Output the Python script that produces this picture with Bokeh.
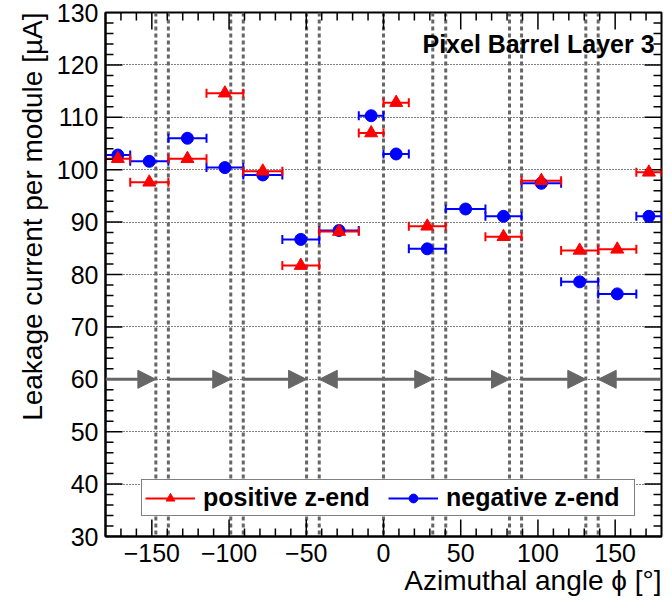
from bokeh.plotting import figure
from bokeh.models import (ColumnDataSource, Whisker, TeeHead, Span, Arrow, NormalHead,
                          Legend, LegendItem, Label, Title,
                          SingleIntervalTicker, Range1d)
from bokeh.embed import file_html
from bokeh.resources import INLINE

# ---------------- data ----------------
bin_lo = [-180, -164, -139.3, -114.6, -90.8, -65.5, -41.6, -16, 0, 16.4, 40.3, 66, 89.4, 115, 139.0, 163.7]
bin_hi = [-164, -139.3, -114.6, -90.8, -65.5, -41.6, -16, 0, 16.4, 40.3, 66, 89.4, 115, 139.0, 163.7, 180]

positive_current = [102.1, 97.6, 102.1, 114.6, 99.7, 81.7, 88.2, 107.0, 112.8, 89.2, None, 87.2, 97.9, 84.6, 84.8, 99.5]
negative_current = [102.8, 101.6, 106.0, 100.4, 99.0, 86.7, 88.4, 110.3, 103.0, 84.9, 92.5, 91.1, 97.4, 78.6, 76.3, 91.1]

boundary_phi = [-147.4, -139.3, -98.9, -90.8, -49.8, -41.6, 0, 31.9, 40.3, 81.6, 89.4, 131.0, 139.0]

arrow_level = 60
arrow_from = [-180, -139.3, -90.8, 40.3, 89.4, 180]
arrow_to = [-147.4, -98.9, -49.8, 81.6, 131.0, 139.0]
double_arrow_from = [-41.6]
double_arrow_to = [31.9]

x_min, x_max = -180, 180
y_min, y_max = 30, 130
x_major_ticks = [-150, -100, -50, 0, 50, 100, 150]
x_minor_step = 10
y_major_ticks = [30, 40, 50, 60, 70, 80, 90, 100, 110, 120, 130]
y_minor_step = 2

RED = "#ff0000"
BLUE = "#0000ff"
GREY_DASH = "#666666"
GREY_ARROW = "#666666"
FONT = "Liberation Sans"

W, H = 664, 600
BORDER_L, BORDER_R, BORDER_T, BORDER_B = 105, 3, 12, 64


def series_source(values):
    d = dict(phi=[], lo=[], hi=[], cur=[])
    for lo, hi, v in zip(bin_lo, bin_hi, values):
        if v is None:
            continue
        d["phi"].append((lo + hi) / 2.0)
        d["lo"].append(lo)
        d["hi"].append(hi)
        d["cur"].append(v)
    return ColumnDataSource(d)


src_pos = series_source(positive_current)
src_neg = series_source(negative_current)

# ---------------- figure ----------------
p = figure(width=W, height=H, x_range=Range1d(x_min, x_max), y_range=Range1d(y_min, y_max),
           output_backend="svg", toolbar_location=None,
           min_border_left=BORDER_L, min_border_right=BORDER_R,
           min_border_top=BORDER_T, min_border_bottom=BORDER_B)
p.background_fill_color = "white"
p.border_fill_color = "white"
p.outline_line_color = "black"
p.outline_line_width = 2

for ax, tk in ((p.xaxis[0], SingleIntervalTicker(interval=50, num_minor_ticks=5)),
               (p.yaxis[0], SingleIntervalTicker(interval=10, num_minor_ticks=5))):
    ax.ticker = tk
    ax.axis_line_color = "black"
    ax.axis_line_width = 2
    ax.major_tick_in = 0
    ax.major_tick_out = 0
    ax.minor_tick_in = 0
    ax.minor_tick_out = 0
    ax.major_label_text_font = FONT
    ax.major_label_text_font_size = "25px"
    ax.major_label_text_color = "black"
p.xaxis[0].major_label_standoff = 7
p.yaxis[0].major_label_standoff = 7

p.xgrid.visible = False
p.ygrid.grid_line_color = "black"
p.ygrid.grid_line_width = 1
p.ygrid.grid_line_dash = "1 2"

# tick marks on all four sides, pointing inwards (ROOT style)
px_per_x = (W - BORDER_L - BORDER_R) / (x_max - x_min)
px_per_y = 523.0 / (y_max - y_min)
x_minor_ticks = [v for v in range(x_min + x_minor_step, x_max, x_minor_step) if v not in x_major_ticks]
y_minor_ticks = [v for v in range(y_min, y_max + 1, y_minor_step) if v not in y_major_ticks]
for ticks, length in ((x_major_ticks, 17), (x_minor_ticks, 8)):
    dy = length / px_per_y
    n = len(ticks)
    p.segment(x0=ticks, y0=[y_min] * n, x1=ticks, y1=[y_min + dy] * n,
              line_color="black", line_width=1.5)
    p.segment(x0=ticks, y0=[y_max] * n, x1=ticks, y1=[y_max - dy] * n,
              line_color="black", line_width=1.5)
for ticks, length in ((y_major_ticks, 17), (y_minor_ticks, 8)):
    dx = length / px_per_x
    n = len(ticks)
    p.segment(x0=[x_min] * n, y0=ticks, x1=[x_min + dx] * n, y1=ticks,
              line_color="black", line_width=1.5)
    p.segment(x0=[x_max] * n, y0=ticks, x1=[x_max - dx] * n, y1=ticks,
              line_color="black", line_width=1.5)

# axis titles (right aligned, ROOT style)
p.add_layout(Title(text="Azimuthal angle \u03d5 [\u00b0]", align="right", text_font=FONT,
                   text_font_size="28px", text_font_style="normal", text_color="black",
                   standoff=-4), "below")
p.add_layout(Title(text="Leakage current per module [\u00b5A]", align="right", text_font=FONT,
                   text_font_size="28px", text_font_style="normal", text_color="black",
                   standoff=12), "left")

# dashed boundaries
for v in boundary_phi:
    p.add_layout(Span(location=v, dimension="height", line_color=GREY_DASH, line_width=3,
                      line_dash="4 3", level="underlay"))

# arrows
arrow_src = ColumnDataSource(dict(x0=arrow_from, x1=arrow_to, y=[arrow_level] * len(arrow_from)))
p.add_layout(Arrow(source=arrow_src, x_start="x0", y_start="y", x_end="x1", y_end="y",
                   line_color=GREY_ARROW, line_width=3,
                   end=NormalHead(size=18, fill_color=GREY_ARROW, line_color=GREY_ARROW)))
darrow_src = ColumnDataSource(dict(x0=double_arrow_from, x1=double_arrow_to,
                                   y=[arrow_level] * len(double_arrow_from)))
p.add_layout(Arrow(source=darrow_src, x_start="x0", y_start="y", x_end="x1", y_end="y",
                   line_color=GREY_ARROW, line_width=3,
                   start=NormalHead(size=18, fill_color=GREY_ARROW, line_color=GREY_ARROW),
                   end=NormalHead(size=18, fill_color=GREY_ARROW, line_color=GREY_ARROW)))

# error bars
for src, col in ((src_neg, BLUE), (src_pos, RED)):
    p.add_layout(Whisker(source=src, base="cur", lower="lo", upper="hi", dimension="width",
                         line_color=col, line_width=2,
                         lower_head=TeeHead(size=9, line_color=col, line_width=2),
                         upper_head=TeeHead(size=9, line_color=col, line_width=2)))

neg_r = p.scatter("phi", "cur", source=src_neg, marker="circle", size=12,
                  fill_color=BLUE, line_color=BLUE)
pos_r = p.scatter("phi", "cur", source=src_pos, marker="triangle", size=13,
                  fill_color=RED, line_color=RED)

pos_line = p.line(x=[float("nan")], y=[float("nan")], line_color=RED, line_width=2)
neg_line = p.line(x=[float("nan")], y=[float("nan")], line_color=BLUE, line_width=2)

legend = Legend(items=[LegendItem(label="positive z-end", renderers=[pos_line, pos_r]),
                       LegendItem(label="negative z-end", renderers=[neg_line, neg_r])],
                location=(36, 20), orientation="horizontal",
                label_text_font=FONT, label_text_font_size="25px", label_text_font_style="bold",
                label_text_color="black",
                glyph_width=50, glyph_height=22, label_standoff=8, label_width=185,
                spacing=0, padding=3, margin=0,
                border_line_color="black", border_line_width=1.5,
                background_fill_color="white", background_fill_alpha=1.0)
p.add_layout(legend)

p.add_layout(Label(x=175.5, y=124, text="Pixel Barrel Layer 3", text_align="right",
                   text_baseline="alphabetic", text_font=FONT, text_font_size="25px",
                   text_font_style="bold", text_color="black"))

open("out.html", "w").write(file_html(p, INLINE))
